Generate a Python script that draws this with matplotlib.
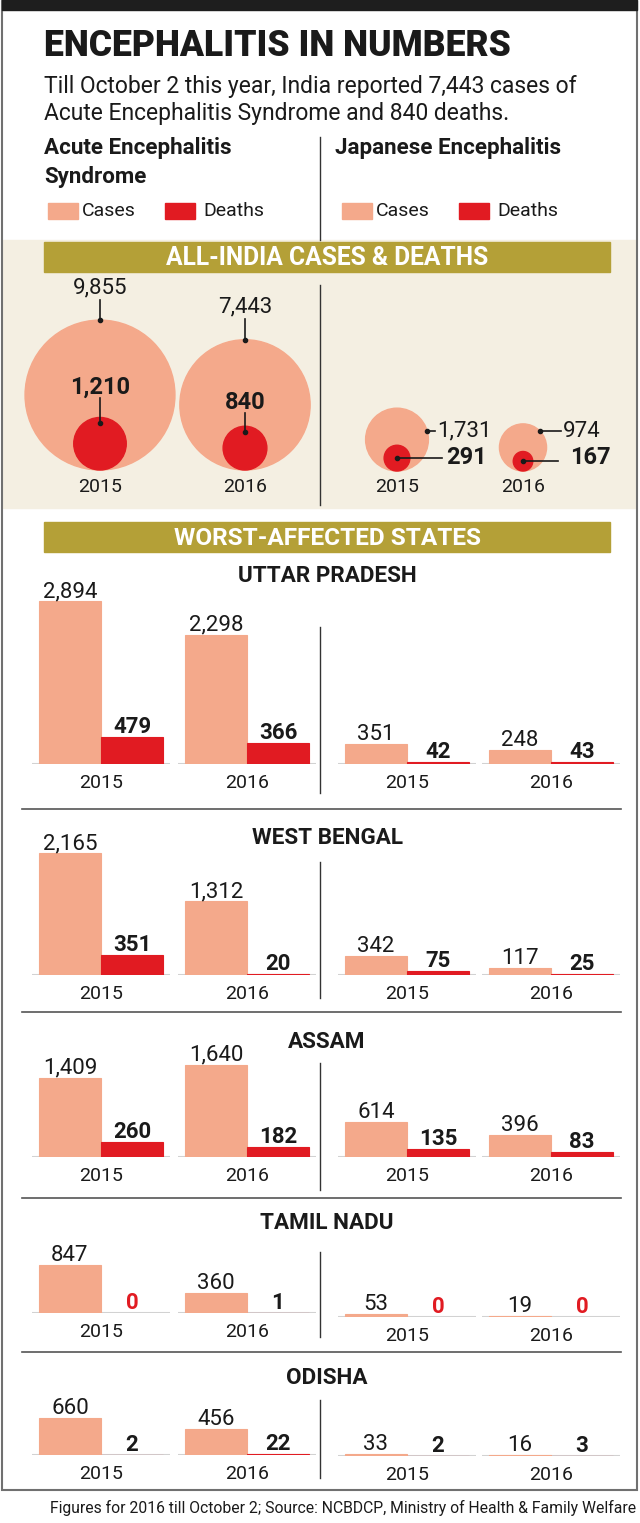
import matplotlib
matplotlib.use('Agg')
import matplotlib.pyplot as plt
from matplotlib.patches import Rectangle, Circle
import numpy as np

plt.rcParams['font.family'] = ['Roboto', 'DejaVu Sans']

# ---- data ----
years = ['2015', '2016']
aes_total_cases = [9855, 7443]
aes_total_deaths = [1210, 840]
je_total_cases = [1731, 974]
je_total_deaths = [291, 167]

states = ['UTTAR PRADESH', 'WEST BENGAL', 'ASSAM', 'TAMIL NADU', 'ODISHA']
aes_cases_2015 = [2894, 2165, 1409, 847, 660]
aes_deaths_2015 = [479, 351, 260, 0, 2]
aes_cases_2016 = [2298, 1312, 1640, 360, 456]
aes_deaths_2016 = [366, 20, 182, 1, 22]
je_cases_2015 = [351, 342, 614, 53, 33]
je_deaths_2015 = [42, 75, 135, 0, 2]
je_cases_2016 = [248, 117, 396, 19, 16]
je_deaths_2016 = [43, 25, 83, 0, 3]

title = 'ENCEPHALITIS IN NUMBERS'
subtitle = ['Till October 2 this year, India reported 7,443 cases of',
            'Acute Encephalitis Syndrome and 840 deaths.']
footer = 'Figures for 2016 till October 2; Source: NCBDCP, Ministry of Health & Family Welfare'

# ---- style ----
CASES = '#f4a98b'
DEATHS = '#e11b22'
BEIGE = '#f4efe2'
OLIVE = '#b4a037'
INK = '#1a1a1a'
FRAME = '#707070'

W, H = 640, 1523
fig = plt.figure(figsize=(W / 100, H / 100), dpi=100)
bg = fig.add_axes([0, 0, 1, 1])
bg.set_xlim(0, W)
bg.set_ylim(H, 0)
bg.axis('off')
renderer = fig.canvas.get_renderer()


def fit(x, y, s, width, **kw):
    # scale font so the text spans the given pixel width
    t = bg.text(x, y, s, **kw)
    w = t.get_window_extent(renderer).width
    t.set_fontsize(t.get_fontsize() * width / w)
    return t


# frame, top bar
bg.add_patch(Rectangle((2, 0), 635, 1490, fill=False, ec=FRAME, lw=1.5))
bg.add_patch(Rectangle((2, 0), 635, 10, color='#1e1e1e'))

fit(44, 46, title, 466, fontweight='heavy', va='center', color=INK)
t = fit(44, 86, subtitle[0], 534, va='center', color=INK)
bg.text(44, 113, subtitle[1], va='center', color=INK, fontsize=t.get_fontsize())

h = fit(44, 148, 'Acute Encephalitis', 188, fontweight='bold', va='center', color=INK)
bg.text(44, 177, 'Syndrome', fontweight='bold', va='center', color=INK, fontsize=h.get_fontsize())
bg.text(335, 148, 'Japanese Encephalitis', fontweight='bold', va='center', color=INK, fontsize=h.get_fontsize())
bg.plot([320, 320], [137, 240], color='#333333', lw=1)

for x0 in (48, 342):
    bg.add_patch(Rectangle((x0, 203), 30, 16, color=CASES))
    bg.text(x0 + 34, 211, 'Cases', va='center', fontsize=14, color=INK)
    bg.add_patch(Rectangle((x0 + 117, 203), 30, 16, color=DEATHS))
    bg.text(x0 + 155, 211, 'Deaths', va='center', fontsize=14, color=INK)

# ---- all-India circles ----
bg.add_patch(Rectangle((3, 240), 633, 268, color=BEIGE, zorder=0))
bg.add_patch(Rectangle((44, 242), 566, 30, color=OLIVE))
fit(327, 258, 'ALL-INDIA CASES & DEATHS', 323, ha='center', va='center',
    fontweight='bold', color='white')
bg.plot([320, 320], [285, 505], color='#333333', lw=1)

k = 0.755  # radius per sqrt(value)


def bubble(cx, base, cases, deaths):
    rc = k * np.sqrt(cases)
    rd = k * np.sqrt(deaths)
    bg.add_patch(Circle((cx, base - rc), rc, color=CASES, zorder=2))
    bg.add_patch(Circle((cx, base - rd), rd, color=DEATHS, zorder=3))
    return rc, rd


aes_x = [100, 245]
aes_label_y = [(288, 387), (307, 402)]
for cx, c, d, yr, (ly1, ly2) in zip(aes_x, aes_total_cases, aes_total_deaths, years, aes_label_y):
    rc, rd = bubble(cx, 470, c, d)
    bg.text(cx, ly1, f'{c:,}', ha='center', va='center', fontsize=16, color=INK)
    bg.plot([cx, cx], [ly1 + 12, 470 - 2 * rc], color=INK, lw=1.2, zorder=4)
    bg.plot([cx], [470 - 2 * rc], 'o', color=INK, ms=3, zorder=4)
    bg.text(cx, ly2, f'{d:,}', ha='center', va='center', fontsize=17,
            fontweight='bold', color=INK, zorder=5)
    bg.plot([cx, cx], [ly2 + 11, 470 - 2 * rd + 6], color=INK, lw=1.2, zorder=4)
    bg.plot([cx], [470 - 2 * rd + 6], 'o', color=INK, ms=3, zorder=4)
    bg.text(cx, 487, yr, ha='center', va='center', fontsize=14, color=INK)

je_x = [397, 523]
je_text_x = [(437, 446), (563, 570)]
for cx, c, d, yr, (tx1, tx2) in zip(je_x, je_total_cases, je_total_deaths, years, je_text_x):
    rc, rd = bubble(cx, 471, c, d)
    ly = 431
    dy = (471 - rc) - ly
    ex = cx + np.sqrt(max(rc ** 2 - dy ** 2, 0))
    bg.plot([ex, tx1 - 2], [ly, ly], color=INK, lw=1.2, zorder=4)
    bg.plot([ex], [ly], 'o', color=INK, ms=3, zorder=4)
    bg.text(tx1, ly, f'{c:,}', va='center', fontsize=16, color=INK)
    dcy = 471 - rd
    bg.plot([cx, tx2 - 4 if tx2 < 560 else 558], [dcy, dcy], color=INK, lw=1.2, zorder=4)
    bg.plot([cx], [dcy], 'o', color=INK, ms=3, zorder=4)
    bg.text(tx2, 457, f'{d:,}', va='center', fontsize=17, fontweight='bold', color=INK)
    bg.text(cx, 487, yr, ha='center', va='center', fontsize=14, color=INK)

# ---- worst-affected states ----
bg.add_patch(Rectangle((44, 522), 566, 30, color=OLIVE))
fit(327, 538, 'WORST-AFFECTED STATES', 307, ha='center', va='center',
    fontweight='bold', color='white')

s = 0.0562  # pixels per case
aes_groups = [101, 247]
je_groups = [407, 551]
# layout per state: title y, AES baseline, JE baseline, divider top/bottom, separator y
layout = [
    (576, 764, 764, 627, 793, 809),
    (838, 975, 975, 862, 998, 1012),
    (1042, 1157, 1157, 1063, 1190, 1198),
    (1223, 1313, 1317, 1252, 1337, 1352),
    (1378, 1455, 1456, 1400, 1478, None),
]

st_size = None


def panel(x0, base, groups, cases, deaths):
    ax = fig.add_axes([x0 / W, (H - base) / H, 320 / W, 240 / H])
    ax.set_xlim(x0, x0 + 320)
    ax.set_ylim(0, 240 / s)
    ax.axis('off')
    g = np.array(groups)
    ax.hlines(np.zeros(len(g)), g - 69, g + 69, color='#d2d2d2', lw=1.5, zorder=1)
    xc, xd = g - 31, g + 31
    ax.bar(xc, cases, width=62, color=CASES, ec=CASES,
           lw=[0.8 if v else 0 for v in cases], zorder=2)
    ax.bar(xd, deaths, width=62, color=DEATHS, ec=DEATHS,
           lw=[0.8 if v else 0 for v in deaths], zorder=2)
    for x, v in zip(xc, cases):
        ax.annotate(f'{v:,}', (x, v), xytext=(0, 4), textcoords='offset pixels',
                    ha='center', va='baseline', fontsize=16, color=INK)
    for x, v in zip(xd, deaths):
        ax.annotate(f'{v:,}', (x, v), xytext=(0, 4), textcoords='offset pixels',
                    ha='center', va='baseline', fontsize=16, fontweight='bold',
                    color=DEATHS if v == 0 else INK)
    for gc, yr in zip(groups, years):
        bg.text(gc, base + 19, yr, ha='center', va='center', fontsize=14, color=INK)


for i, name in enumerate(states):
    ty, ab, jb, d0, d1, sep = layout[i]
    if st_size is None:
        st_size = fit(327, ty, name, 178, ha='center', va='center',
                      fontweight='bold', color=INK).get_fontsize()
    else:
        bg.text(327, ty, name, ha='center', va='center', fontweight='bold',
                color=INK, fontsize=st_size)
    panel(0, ab, aes_groups, [aes_cases_2015[i], aes_cases_2016[i]],
          [aes_deaths_2015[i], aes_deaths_2016[i]])
    panel(320, jb, je_groups, [je_cases_2015[i], je_cases_2016[i]],
          [je_deaths_2015[i], je_deaths_2016[i]])
    bg.plot([320, 320], [d0, d1], color='#333333', lw=1)
    if sep:
        bg.plot([22, 621], [sep, sep], color='#555555', lw=1.2)

fit(636, 1508, footer, 588, ha='right', va='center', color=INK)

fig.savefig('out.png', dpi=100)
